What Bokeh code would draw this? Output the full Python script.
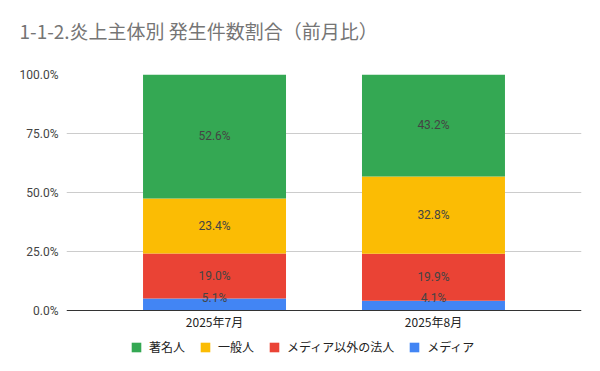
import numpy as np
from bokeh.plotting import figure
from bokeh.models import (ColumnDataSource, FactorRange, Range1d, NumeralTickFormatter,
                          FixedTicker, Legend, LegendItem, LabelSet, Title)
from bokeh.core.properties import value
from bokeh.embed import file_html
from bokeh.resources import INLINE

# ---- data ----
months = ["2025年7月", "2025年8月"]
media = [0.051, 0.041]              # メディア
corp = [0.190, 0.199]               # メディア以外の法人
general = [0.234, 0.328]            # 一般人
celeb = [0.526, 0.432]              # 著名人
series_names = ["メディア", "メディア以外の法人", "一般人", "著名人"]
series_colors = ["#4285F4", "#EA4335", "#FBBC04", "#34A853"]
title_text = "1-1-2.炎上主体別 発生件数割合（前月比）"

NUM_FONT = "Roboto"
CJK_FONT = "Noto Sans CJK JP"

# layout (pixels): value axis 0..1 spans 236 px, extra 50 px below zero for the legend
PX_PER_UNIT = 236
Y_START = -50 / PX_PER_UNIT

src = ColumnDataSource(dict(month=months, **{n: v for n, v in zip(series_names, [media, corp, general, celeb])}))

p = figure(frame_width=515, frame_height=286, output_backend="svg", toolbar_location=None,
           x_range=FactorRange(factors=months, range_padding=0.176, range_padding_units="absolute"),
           y_range=Range1d(Y_START, 1.0),
           min_border_left=66, min_border_right=19, min_border_top=74, min_border_bottom=0)

renderers = p.vbar_stack(series_names, x="month", width=0.653, source=src,
                         color=series_colors, line_color=None)

# data labels
vals = np.array([media, corp, general, celeb])
tops = np.cumsum(vals, axis=0)
mids = tops - vals / 2
lab_x, lab_y, lab_t = [], [], []
for i in range(vals.shape[0]):
    for j, m in enumerate(months):
        lab_x.append(m)
        lab_y.append(max(mids[i, j], 0.053))
        lab_t.append(f"{vals[i, j]*100:.1f}%")
lsrc = ColumnDataSource(dict(x=lab_x, y=lab_y, t=lab_t))
p.add_layout(LabelSet(x="x", y="y", text="t", source=lsrc, text_align="center",
                      text_baseline="middle", text_font_size="12px", text_color="#444444",
                      text_font=value(NUM_FONT)))

# axes
p.yaxis.ticker = FixedTicker(ticks=[0, 0.25, 0.5, 0.75, 1.0])
p.yaxis.formatter = NumeralTickFormatter(format="0.0%")
p.yaxis.axis_line_color = None
p.yaxis.major_tick_line_color = None
p.yaxis.minor_tick_line_color = None
p.yaxis.major_label_text_font_size = "12px"
p.yaxis.major_label_text_color = "#444444"
p.yaxis.major_label_text_font = NUM_FONT
p.yaxis.major_label_standoff = 2

p.xaxis.fixed_location = 0
p.xaxis.axis_line_color = "#333333"
p.xaxis.major_tick_line_color = None
p.xaxis.minor_tick_line_color = None
p.xaxis.major_label_text_font_size = "12px"
p.xaxis.major_label_text_color = "#222222"
p.xaxis.major_label_text_font = CJK_FONT
p.xaxis.major_label_standoff = -4

p.xgrid.grid_line_color = None
p.ygrid.grid_line_color = "#cccccc"
p.ygrid.ticker = FixedTicker(ticks=[0.25, 0.5, 0.75, 1.0])
p.outline_line_color = None

# real title (outermost panel)
p.title.text = title_text
p.title.text_font = CJK_FONT
p.title.text_font_size = "19px"
p.title.text_font_style = "normal"
p.title.text_color = "#757575"
p.title.align = "left"
p.title.offset = -47
p.title.standoff = 0

# spacer between the frame and the title
p.add_layout(Title(text=" ", text_font_size="1px", standoff=28), "above")

# legend
items = [LegendItem(label=series_names[i], renderers=[renderers[i]]) for i in [3, 2, 1, 0]]
legend = Legend(items=items, orientation="horizontal", location=(64, 5),
                glyph_width=12, glyph_height=12, label_standoff=7, spacing=14,
                label_text_font_size="12px", label_text_color="#222222", label_text_font=CJK_FONT,
                border_line_color=None, background_fill_alpha=0, padding=0, margin=0)
p.add_layout(legend, "center")

open("out.html", "w").write(file_html(p, INLINE))
